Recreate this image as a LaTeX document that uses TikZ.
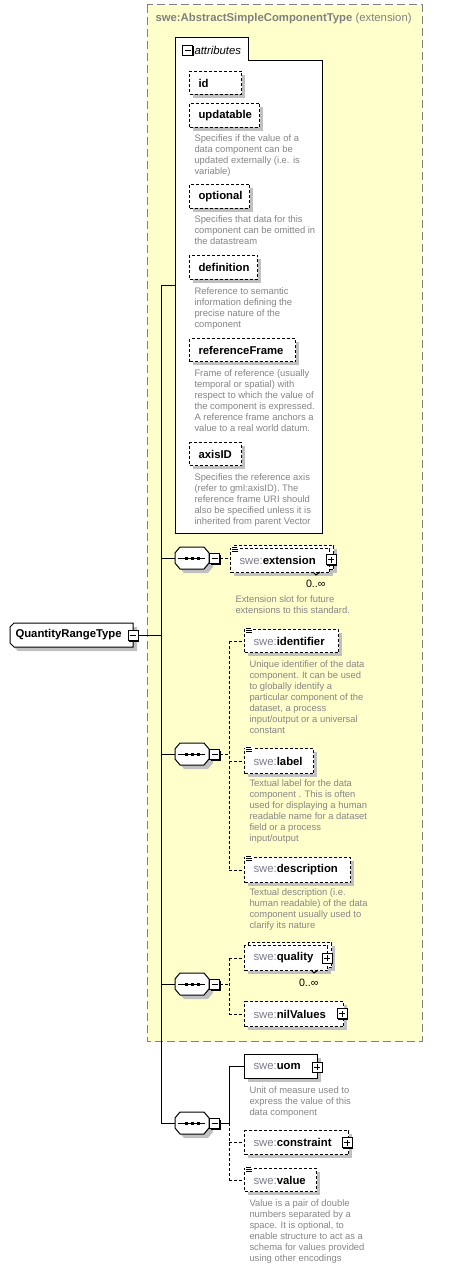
\documentclass[tikz,border=0pt]{standalone}
\usepackage{fontspec}
\setmainfont{Liberation Sans}
\newdimen\pxu \pxu=0.75pt
\definecolor{ylw}{HTML}{FFFFCC}
\definecolor{shd}{HTML}{C0C0C0}
\definecolor{dtxt}{HTML}{858585}
\definecolor{pfxc}{HTML}{7C7C8C}
\definecolor{brd}{HTML}{808080}
\newcommand\nmfont{\fontsize{8.5pt}{10pt}\selectfont\bfseries}
\newcommand\dsfont{\fontsize{7.05pt}{8.25pt}\selectfont}
\newcommand\pfx{{\mdseries\color{pfxc}swe:}}
\tikzset{
  elem/.style={draw, fill=white, anchor=north west, inner xsep=9\pxu, inner ysep=0pt, align=left, font=\nmfont},
  opt/.style={dash pattern=on 3\pxu off 2\pxu},
  optconn/.style={dash pattern=on 3\pxu off 2\pxu},
  desc/.style={anchor=north west, inner sep=0pt, align=left, font=\dsfont, text=dtxt},
  mult/.style={anchor=east, inner sep=0pt, font=\fontsize{8pt}{10pt}\selectfont},
}
% #1 extra style, #2 name, #3 x, #4 y, #5 W, #6 H, #7 text
\newcommand\elbox[7]{%
  \fill[shd] (#3+4,#4+4) rectangle (#3+#5+4,#4+#6+4);
  \pgfmathsetlengthmacro\tw{(#5-18)*\pxu}%
  \node[elem, text width=\tw, minimum height=#6\pxu, #1] (#2) at (#3,#4) {#7};
}
% multi occurrence: #1 name, #2 x, #3 y, #4 W, #5 H, #6 text
\newcommand\mulbox[6]{%
  \fill[shd] (#2+8,#3+1) rectangle (#2+#4+8,#3+#5+1);
  \fill[shd] (#2+4,#3+4) rectangle (#2+#4+4,#3+#5+4);
  \pgfmathsetlengthmacro\tw{(#4-18)*\pxu}%
  \node[elem, opt, text width=\tw, minimum height=#5\pxu] (#1b) at (#2+4,#3-3) {};
  \node[elem, opt, text width=\tw, minimum height=#5\pxu] (#1) at (#2,#3) {#6};
  \draw (#2+#4-16,#3+#5) -- (#2+#4-13,#3+#5+3) -- (#2+#4-9,#3+#5);
}
\newcommand\plusic[2]{%
  \fill (#1-4,#2-4) rectangle (#1+6,#2+6);
  \filldraw[fill=white] (#1-5,#2-5) rectangle (#1+5,#2+5);
  \draw (#1-3,#2) -- (#1+3,#2) (#1,#2-3) -- (#1,#2+3);
}
\newcommand\minusic[2]{%
  \fill (#1-4,#2-4) rectangle (#1+6,#2+6);
  \filldraw[fill=white] (#1-5,#2-5) rectangle (#1+5,#2+5);
  \draw (#1-3,#2) -- (#1+3,#2);
}
\newcommand\docic[2]{%
  \fill[white] (#1+1,#2-2) rectangle (#1+9,#2+6);
  \draw (#1+2,#2-1) -- (#1+7,#2-1) (#1+2,#2+1) -- (#1+8,#2+1) (#1+2,#2+3) -- (#1+8,#2+3);
}
% compositor: #1 name, #2 cx, #3 cy
\newcommand\seqc[3]{%
  \fill[shd, shift={(4,4)}] (#2-17,#3-5) -- (#2-12,#3-11) -- (#2+12,#3-11) -- (#2+17,#3-5) -- (#2+17,#3+5) -- (#2+12,#3+11) -- (#2-12,#3+11) -- (#2-17,#3+5) -- cycle;
  \filldraw[fill=white] (#2-17,#3-5) -- (#2-12,#3-11) -- (#2+12,#3-11) -- (#2+17,#3-5) -- (#2+17,#3+5) -- (#2+12,#3+11) -- (#2-12,#3+11) -- (#2-17,#3+5) -- cycle;
  \node[inner sep=0pt, minimum width=34\pxu, minimum height=22\pxu] (#1) at (#2,#3) {};
  \draw (#2-14,#3) -- (#2+13,#3);
  \fill (#2-7.5,#3-1.5) rectangle (#2-4.5,#3+1.5);
  \fill (#2-1.5,#3-1.5) rectangle (#2+1.5,#3+1.5);
  \fill (#2+4.5,#3-1.5) rectangle (#2+7.5,#3+1.5);
  \minusic{#2+22.5}{#3+0.5}
  \coordinate (#1m) at (#2+28,#3);
}
\begin{document}
\begin{tikzpicture}[x=\pxu, y=-\pxu, line width=0.75pt]
\useasboundingbox (0,0) rectangle (464,1269);
% extension container
\draw[brd, fill=ylw, dash pattern=on 8\pxu off 4\pxu] (147,5) rectangle (422,1041);
\node[anchor=west, inner sep=0pt, font=\nmfont, text=brd] (title) at (155,19) {swe:AbstractSimpleComponentType {\mdseries (extension)}};
% attributes group
\draw[fill=white] (175,38) -- (248,38) -- (248,61) -- (322,61) -- (322,533) -- (175,533) -- cycle;
\minusic{187.5}{50.5}
\node[anchor=west, inner sep=0pt, font=\fontsize{8.5pt}{10pt}\selectfont\itshape] (attrlbl) at (194,50) {attributes};
\coordinate (attrw) at (175,286);

\elbox{opt}{aid}{189}{71}{52}{23}{id}
\elbox{opt}{aupd}{189}{103}{70}{24}{updatable}
\node[desc] (dupd) at (194,134.5) {Specifies if the value of a\\data component can be\\updated externally (i.e. is\\variable)};
\elbox{opt}{aopt}{189}{184}{60}{24}{optional}
\node[desc] (dopt) at (194,215.5) {Specifies that data for this\\component can be omitted in\\the datastream};
\elbox{opt}{adef}{189}{255}{68}{24}{definition}
\node[desc] (ddef) at (194,287.5) {Reference to semantic\\information defining the\\precise nature of the\\component};
\elbox{opt}{aref}{189}{338}{106}{23}{referenceFrame}
\node[desc] (dref) at (194,369.5) {Frame of reference (usually\\temporal or spatial) with\\respect to which the value of\\the component is expressed.\\A reference frame anchors a\\value to a real world datum.};
\elbox{opt}{aaxis}{189}{442}{52}{23}{axisID}
\node[desc] (daxis) at (194,473.5) {Specifies the reference axis\\(refer to gml:axisID). The\\reference frame URI should\\also be specified unless it is\\inherited from parent Vector};

% root
\fill[shd, shift={(4,4)}] (14,623) -- (133,623) -- (133,647) -- (14,647) -- (10,643) -- (10,627) -- cycle;
\filldraw[fill=white] (14,623) -- (133,623) -- (133,647) -- (14,647) -- (10,643) -- (10,627) -- cycle;
\node[anchor=west, inner sep=0pt, font=\nmfont] (qrt) at (15,635) {QuantityRangeType};
\minusic{133}{635.5}
\coordinate (qrtm) at (138,635);

% compositors
\seqc{sa}{192}{558}
\seqc{sb}{192}{754}
\seqc{sc}{192}{984}
\seqc{sd}{192}{1123}

% bus
\coordinate (bt) at (161,286);
\coordinate (bb) at (161,1123);
\draw (bt) -- (bb);
\draw (bt) -- (attrw);
\draw (qrtm) -- (qrtm -| bt);
\draw (sa.west -| bt) -- (sa.west);
\draw (sb.west -| bt) -- (sb.west);
\draw (sc.west -| bt) -- (sc.west);

% sequence 1
\mulbox{ext}{230}{548}{99}{24}{\pfx extension}
\plusic{331}{559.5}
\docic{230}{548}
\node[mult] (mext) at (326,584) {0..∞};
\node[desc] (dext) at (235,595.5) {Extension slot for future\\extensions to this standard.};
\draw[optconn] (sam) -- (sam -| ext.west);

% sequence 2
\elbox{opt}{idf}{244}{629}{94}{23}{\pfx identifier}
\docic{244}{629}
\node[desc] (didf) at (249,660.5) {Unique identifier of the data\\component. It can be used\\to globally identify a\\particular component of the\\dataset, a process\\input/output or a universal\\constant};
\elbox{opt}{lbl}{244}{748}{69}{25}{\pfx label}
\docic{244}{748}
\node[desc] (dlbl) at (249,779.5) {Textual label for the data\\component . This is often\\used for displaying a human\\readable name for a dataset\\field or a process\\input/output};
\elbox{opt}{dsc}{244}{857}{106}{25}{\pfx description}
\docic{244}{857}
\node[desc] (ddsc) at (249,888.5) {Textual description (i.e.\\human readable) of the data\\component usually used to\\clarify its nature};
\coordinate (jb) at (229,754);
\draw[optconn] (sbm) -- (jb);
\draw[optconn] (jb |- idf.west) -- (jb |- dsc.west);
\draw[optconn] (jb |- idf.west) -- (idf.west);
\draw[optconn] (jb |- lbl.west) -- (lbl.west);
\draw[optconn] (jb |- dsc.west) -- (dsc.west);

% sequence 3
\mulbox{qual}{244}{945}{83}{25}{\pfx quality}
\plusic{327}{958}
\node[mult] (mqual) at (319,983) {0..∞};
\elbox{opt}{nil}{244}{1001}{99}{25}{\pfx nilValues}
\plusic{342}{1013.5}
\coordinate (jc) at (229,984);
\draw[optconn] (scm) -- (jc);
\draw[optconn] (jc |- qual.west) -- (jc |- nil.west);
\draw[optconn] (jc |- qual.west) -- (qual.west);
\draw[optconn] (jc |- nil.west) -- (nil.west);

% sequence 4 (outside container)
\draw (sd.west -| bt) -- (sd.west);
\elbox{}{uom}{244}{1054}{73}{24}{\pfx uom}
\plusic{317}{1067}
\node[desc] (duom) at (249,1086.5) {Unit of measure used to\\express the value of this\\data component};
\elbox{opt}{con}{244}{1130}{104}{24}{\pfx constraint}
\plusic{347}{1142.5}
\elbox{opt}{val}{244}{1168}{72}{23}{\pfx value}
\docic{244}{1168}
\node[desc] (dval) at (249,1199.5) {Value is a pair of double\\numbers separated by a\\space. It is optional, to\\enable structure to act as a\\schema for values provided\\using other encodings};
\coordinate (jd) at (229,1123);
\draw (sdm) -- (jd);
\draw (jd) -- (jd |- uom.west) -- (uom.west);
\draw[optconn] (jd) -- (jd |- val.west);
\draw[optconn] (jd |- con.west) -- (con.west);
\draw[optconn] (jd |- val.west) -- (val.west);
\end{tikzpicture}
\end{document}
